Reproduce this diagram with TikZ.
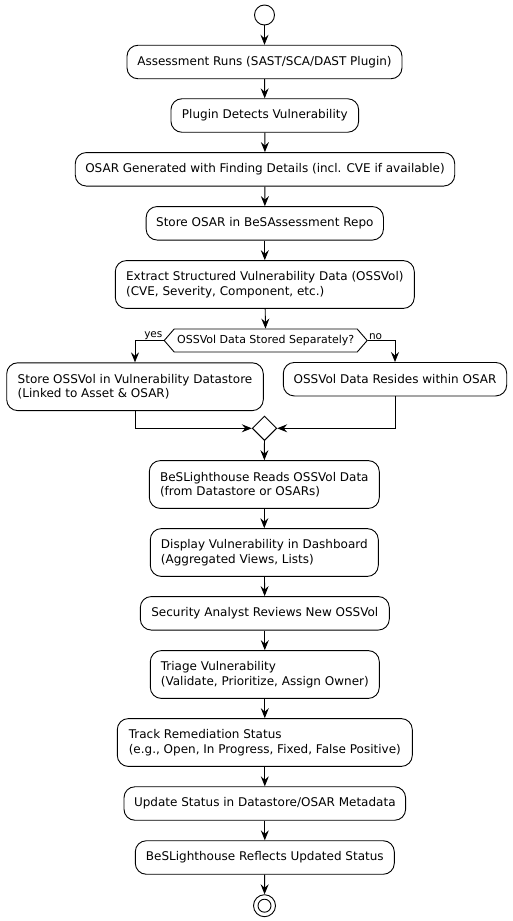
\documentclass[tikz,border=0pt]{standalone}
\usepackage{fontspec}
\setmainfont{DejaVu Sans}
\usetikzlibrary{arrows.meta,shapes.geometric,shapes.symbols}

\tikzset{
  act/.style={draw,line width=0.9pt,rounded corners=11pt,fill=white,align=left,
    inner xsep=10pt,inner ysep=0pt,minimum height=33.5pt,font=\fontsize{12}{14.4}\selectfont},
  acttwo/.style={act,minimum height=47.8pt},
  arr/.style={line width=0.9pt,-{Stealth[length=10pt,width=8pt,inset=3.5pt]}},
  lbl/.style={font=\fontsize{10.5}{12}\selectfont,inner sep=1pt}
}

\begin{document}
\begin{tikzpicture}[x=1pt,y=-1pt]
 \useasboundingbox (0,0) rectangle (512,921);
 % start and stop
 \node[circle,draw,line width=0.9pt,minimum size=20pt,inner sep=0pt] (start) at (264.5,15) {};
 \node[circle,draw,line width=0.9pt,minimum size=22pt,inner sep=0pt] (stop) at (264.5,905.7) {};
 \node[circle,draw,line width=0.9pt,minimum size=13pt,inner sep=0pt] at (stop) {};
 % actions
 \node[act,minimum width=275pt] (assess) at (264.5,62) {Assessment Runs (SAST/SCA/DAST Plugin)};
 \node[act,minimum width=187.7pt] (detect) at (264.8,115.5) {Plugin Detects Vulnerability};
 \node[act,minimum width=378.7pt] (osar) at (265,169.3) {OSAR Generated with Finding Details (incl. CVE if available)};
 \node[act,minimum width=237pt] (store) at (264.8,223.3) {Store OSAR in BeSAssessment Repo};
 \node[acttwo,minimum width=299pt] (extract) at (264.8,284.5) {Extract Structured Vulnerability Data (OSSVol)\\(CVE, Severity, Component, etc.)};
 % decision
 \node[signal,signal to=west and east,signal pointer angle=98,draw,line width=0.9pt,
   minimum width=203pt,minimum height=23pt,inner sep=0pt,font=\fontsize{11}{13}\selectfont] (stored) at (265.7,340.5) {OSSVol Data Stored Separately?};
 \node[acttwo,minimum width=256.6pt] (keep) at (135,386.7) {Store OSSVol in Vulnerability Datastore\\(Linked to Asset \& OSAR)};
 \node[act,minimum width=223.4pt] (reside) at (395,379.2) {OSSVol Data Resides within OSAR};
 \node[diamond,draw,line width=0.9pt,fill=white,minimum width=24.5pt,minimum height=24.5pt,inner sep=0pt] (merge) at (264.5,428.3) {};
 % after merge
 \node[acttwo,minimum width=230pt] (reads) at (264.3,484.5) {BeSLighthouse Reads OSSVol Data\\(from Datastore or OSARs)};
 \node[acttwo,minimum width=228pt] (display) at (264.3,552.5) {Display Vulnerability in Dashboard\\(Aggregated Views, Lists)};
 \node[act,minimum width=249pt] (review) at (264.8,613.3) {Security Analyst Reviews New OSSVol};
 \node[acttwo,minimum width=229pt] (triage) at (264.8,674.5) {Triage Vulnerability\\(Validate, Prioritize, Assign Owner)};
 \node[acttwo,minimum width=295pt] (track) at (264.8,742.5) {Track Remediation Status\\(e.g., Open, In Progress, Fixed, False Positive)};
 \node[act,minimum width=281pt] (update) at (264.8,803.5) {Update Status in Datastore/OSAR Metadata};
 \node[act,minimum width=259pt] (reflect) at (264.8,857.5) {BeSLighthouse Reflects Updated Status};
 % connectors
 \draw[arr] (start) -- (assess);
 \draw[arr] (assess) -- (detect);
 \draw[arr] (detect) -- (osar);
 \draw[arr] (osar) -- (store);
 \draw[arr] (store) -- (extract);
 \draw[arr] (extract) -- (stored);
 \draw[arr] (stored.west) -| (keep.north);
 \draw[arr] (stored.east) -| (reside.north);
 \node[lbl,anchor=south east] at (stored.west) {yes};
 \node[lbl,anchor=south west] at (stored.east) {no};
 \draw[arr] (keep.south) |- (merge.west);
 \draw[arr] (reside.south) |- (merge.east);
 \draw[arr] (merge) -- (reads);
 \draw[arr] (reads) -- (display);
 \draw[arr] (display) -- (review);
 \draw[arr] (review) -- (triage);
 \draw[arr] (triage) -- (track);
 \draw[arr] (track) -- (update);
 \draw[arr] (update) -- (reflect);
 \draw[arr] (reflect) -- (stop);
\end{tikzpicture}
\end{document}
